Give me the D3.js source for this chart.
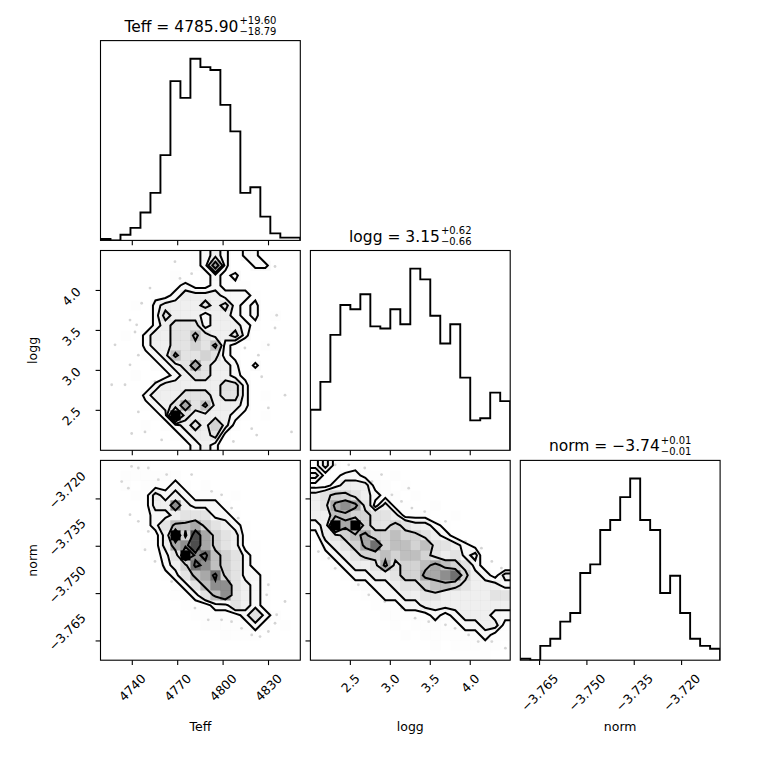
<!DOCTYPE html>
<html><head><meta charset="utf-8">
<script src="https://cdn.jsdelivr.net/npm/d3@7"></script>
<style>body{margin:0;background:#fff} svg{display:block} text{font-family:"DejaVu Sans",sans-serif;fill:#000}</style>
</head><body><svg id="c" width="760" height="760"></svg>
<script>
// ---------- data ----------
const paramNames = ["Teff", "logg", "norm"];
const teffRange = [4719.0, 4851.0];
const loggRange = [2.0, 4.5];
const normRange = [-3.7711, -3.7078];
const teffTicks = [4740, 4770, 4800, 4830];
const loggTicks = [2.5, 3.0, 3.5, 4.0];
const normTicks = [-3.765, -3.750, -3.735, -3.720];
const teffTickLabels = ["4740", "4770", "4800", "4830"];
const loggTickLabels = ["2.5", "3.0", "3.5", "4.0"];
const normTickLabels = ["−3.765", "−3.750", "−3.735", "−3.720"];
const titleMedians = ["4785.90", "3.15", "−3.74"];
const titlePlus = ["19.60", "0.62", "0.01"];
const titleMinus = ["18.79", "0.66", "0.01"];

// 1D histogram counts (20 bins over each range)
const teffCounts = [1, 0, 4, 9, 20, 34, 61, 114, 102, 130, 124, 122, 97, 78, 34, 38, 17, 5, 2, 2];
const loggCounts = [19, 32, 54, 68, 66, 73, 58, 57, 66, 59, 85, 80, 63, 50, 59, 34, 14, 15, 27, 23];
const normCounts = [1, 0, 10, 15, 27, 33, 61, 67, 91, 98, 114, 127, 98, 91, 47, 59, 33, 15, 10, 8];

// 2D histogram counts, 20x20, rows from top (high y) to bottom, columns left to right
const gridTeffLogg = [
  [0,0,0,0,0,0,0,0,0,1,2,3,2,0,2,2,0,0,0,0],
  [0,0,0,0,0,0,0,0,0,1,2,7,2,0,0,2,2,0,0,0],
  [0,0,0,0,0,0,0,1,0,0,1,2,1,2,0,0,0,0,0,0],
  [0,0,0,0,0,0,0,1,2,1,1,2,1,1,1,0,0,0,0,0],
  [0,0,0,0,0,1,1,2,3,3,3,3,2,2,2,1,0,0,0,0],
  [0,0,0,1,0,2,3,3,3,3,4,3,4,2,1,2,0,0,0,0],
  [0,0,0,0,0,2,4,3,3,3,2,3,3,2,1,2,0,1,0,0],
  [0,0,0,0,0,2,3,4,4,4,2,3,3,3,2,1,0,0,0,0],
  [0,0,1,0,2,3,3,4,4,6,4,3,3,4,2,0,0,0,0,0],
  [0,0,0,0,2,3,3,4,4,5,4,6,2,1,0,0,1,0,0,0],
  [0,0,0,0,1,2,3,6,4,4,5,4,2,1,0,0,0,0,0,0],
  [0,0,0,0,0,1,2,3,4,7,4,3,3,2,0,2,0,0,0,0],
  [0,0,0,1,0,0,1,2,3,4,4,3,3,2,1,0,0,0,0,0],
  [0,0,0,0,0,2,3,3,3,3,3,3,4,4,2,0,0,0,0,0],
  [0,0,0,0,2,3,3,3,4,4,4,3,4,4,2,0,1,0,0,0],
  [0,0,0,0,1,2,3,4,7,4,6,3,3,3,2,0,0,0,0,0],
  [0,0,0,0,0,1,2,12,4,3,3,3,3,2,1,0,1,0,0,0],
  [0,0,0,0,1,0,1,2,3,4,3,5,3,1,0,0,0,0,0,0],
  [0,0,0,0,0,0,0,1,2,3,3,4,1,0,0,0,0,0,0,0],
  [0,0,0,0,0,0,0,0,1,2,3,2,0,0,0,0,0,0,0,0]
];
const gridTeffNorm = [
  [0,0,0,1,1,0,0,0,0,0,0,0,0,0,0,0,0,0,0,0],
  [0,0,1,1,1,1,1,1,0,0,0,0,0,0,0,0,0,0,0,0],
  [0,0,1,0,1,1,1,2,1,0,1,0,0,0,0,0,0,0,0,0],
  [0,0,0,1,1,3,2,3,2,1,1,1,0,1,0,0,0,0,0,0],
  [0,0,0,0,1,3,3,8,3,2,2,2,1,0,0,0,0,0,0,0],
  [0,0,0,0,1,2,2,3,4,4,4,2,2,1,0,0,0,0,0,0],
  [0,0,0,0,1,2,4,6,6,7,5,4,3,2,1,0,0,0,0,0],
  [0,0,0,0,0,1,3,12,5,10,7,5,4,3,1,0,0,0,0,0],
  [0,0,0,0,1,1,3,7,8,10,7,5,4,3,1,1,0,0,0,0],
  [0,0,0,0,0,1,2,4,12,8,9,6,5,4,2,1,0,0,0,0],
  [0,0,0,0,0,0,2,3,5,9,8,6,5,4,2,1,0,0,0,0],
  [0,0,0,0,0,0,1,2,4,6,7,9,5,4,2,2,1,0,0,0],
  [0,0,0,0,0,0,0,1,2,4,6,8,8,4,3,2,1,0,0,0],
  [0,0,0,0,0,0,0,1,1,2,4,6,8,4,3,2,1,0,0,0],
  [0,0,0,0,0,0,0,0,1,1,1,2,2,4,3,2,1,0,0,0],
  [0,0,0,0,0,0,0,0,0,1,1,1,1,1,2,4,2,1,0,0],
  [0,0,0,0,0,0,0,0,0,0,1,1,1,1,1,2,1,0,1,0],
  [0,0,0,0,0,0,0,0,0,0,0,0,1,1,1,1,0,0,0,0],
  [0,0,0,0,0,0,0,0,0,0,0,0,0,0,0,0,0,0,0,0],
  [0,0,0,0,0,0,0,0,0,0,0,0,0,0,0,0,0,0,0,0]
];
const gridLoggNorm = [
  [1,3,1,0,1,0,0,0,0,0,0,0,0,0,0,0,0,0,0,0],
  [3,1,1,2,2,1,1,0,1,0,0,0,0,0,0,0,0,0,0,0],
  [1,1,2,3,3,3,1,1,0,1,0,0,0,0,0,0,0,0,0,0],
  [3,4,5,5,4,3,2,1,1,0,1,0,0,0,0,0,0,0,0,0],
  [3,4,7,8,7,4,1,3,1,1,0,0,1,0,0,0,0,0,0,0],
  [3,3,6,6,5,5,4,4,3,1,1,1,0,0,1,0,0,0,0,0],
  [2,3,12,7,12,5,4,4,5,4,3,3,2,1,0,0,0,0,0,0],
  [1,3,4,5,6,7,5,5,6,5,5,4,3,2,1,0,0,0,0,0],
  [0,2,3,4,5,7,9,5,6,6,5,6,4,4,3,2,1,0,0,0],
  [0,1,2,3,4,5,5,6,5,6,6,5,4,3,4,2,3,0,0,0],
  [0,0,1,2,3,3,4,7,4,5,5,6,7,6,5,4,2,1,0,0],
  [0,0,0,1,2,2,3,3,4,5,5,7,7,8,9,5,3,2,1,3],
  [0,0,0,0,1,1,2,2,3,4,4,5,6,6,5,4,3,3,3,2],
  [0,0,0,0,0,1,1,2,2,3,3,4,4,3,3,3,3,3,4,4],
  [0,0,0,0,0,0,1,1,1,2,2,3,3,3,3,3,3,3,3,3],
  [0,0,0,0,0,0,0,1,1,1,1,1,2,1,2,3,3,3,2,2],
  [0,0,0,0,0,0,0,0,1,0,1,1,1,1,1,2,2,3,3,1],
  [0,0,0,0,0,0,0,0,0,1,0,1,1,1,1,1,1,2,1,1],
  [0,0,0,0,0,0,0,0,0,0,0,0,1,0,1,1,1,1,1,0],
  [0,0,0,0,0,0,0,0,0,0,0,0,0,0,0,0,0,1,0,0]
];
// contour levels (counts) for each 2D panel, outermost first
const levelsTeffLogg = [1.5, 2.5, 3.5, 5.5];
const levelsTeffNorm = [1.5, 2.5, 5.5, 8.5];
const levelsLoggNorm = [1.5, 2.5, 4.5, 6.5];

// sparse samples visible outside the contours
const ptsTeffLogg = [[4738.5,3.63],[4742.9,3.57],[4746.2,3.84],[4751.7,4.03],[4779.2,4.21],[4771.5,4.15],[4826.6,4.28],[4834.3,4.30],[4835.4,3.69],[4834.3,3.53],[4829.9,3.32],[4823.3,3.19],[4825.5,2.92],[4840.9,2.69],[4829.9,2.53],[4818.9,2.27],[4822.2,2.19],[4806.8,2.11],[4759.4,2.13],[4748.4,2.23],[4739.6,2.21],[4744.0,2.48],[4735.2,2.82],[4738.5,3.07],[4744.0,3.19],[4741.8,3.48],[4755.0,2.86],[4726.4,2.82],[4814.4,3.28],[4768.2,4.36],[4845.2,2.23],[4728.6,3.32]];
const ptsTeffNorm = [[4739.5,-3.7097],[4744.0,-3.7102],[4750.6,-3.7102],[4757.2,-3.7139],[4762.7,-3.7123],[4779.2,-3.7123],[4733.0,-3.7145],[4737.4,-3.7166],[4738.5,-3.7250],[4744.0,-3.7271],[4750.6,-3.7303],[4748.4,-3.7361],[4755.0,-3.7398],[4766.0,-3.7462],[4781.4,-3.7515],[4790.2,-3.7583],[4799.0,-3.7583],[4805.6,-3.7589],[4812.2,-3.7610],[4818.9,-3.7631],[4824.4,-3.7636],[4834.3,-3.7594],[4835.4,-3.7567],[4840.9,-3.7525],[4828.8,-3.7504],[4829.9,-3.7472],[4823.3,-3.7441],[4812.2,-3.7345],[4810.0,-3.7261],[4805.6,-3.7229],[4799.0,-3.7187],[4792.4,-3.7176],[4781.4,-3.7546],[4829.9,-3.7620]];
const ptsLoggNorm = [[2.10,-3.7102],[2.31,-3.7092],[2.48,-3.7092],[2.56,-3.7123],[2.77,-3.7145],[2.89,-3.7123],[3.02,-3.7187],[3.14,-3.7208],[3.27,-3.7229],[3.43,-3.7240],[3.69,-3.7271],[3.94,-3.7335],[4.14,-3.7356],[4.27,-3.7398],[4.39,-3.7419],[2.10,-3.7367],[2.23,-3.7388],[2.31,-3.7420],[2.48,-3.7430],[2.60,-3.7472],[2.73,-3.7504],[2.93,-3.7525],[3.14,-3.7546],[3.31,-3.7578],[3.48,-3.7589],[3.69,-3.7599],[3.81,-3.7610],[3.98,-3.7631],[4.10,-3.7652],[4.27,-3.7652],[4.44,-3.7673],[3.23,-3.7166],[2.68,-3.7102]];

// ---------- layout ----------
const L0 = 100.5, T0 = 40.6, S = 199.8, G = 10.1;
const colLeft = i => L0 + i * (S + G);
const rowTop = j => T0 + j * (S + G);
const FS = 12.5;

const ranges = [teffRange, loggRange, normRange];
const ticksAll = [teffTicks, loggTicks, normTicks];
const tickLabelsAll = [teffTickLabels, loggTickLabels, normTickLabels];
const countsAll = [teffCounts, loggCounts, normCounts];
const grids = { "1,0": gridTeffLogg, "2,0": gridTeffNorm, "2,1": gridLoggNorm };
const levels = { "1,0": levelsTeffLogg, "2,0": levelsTeffNorm, "2,1": levelsLoggNorm };
const points = { "1,0": ptsTeffLogg, "2,0": ptsTeffNorm, "2,1": ptsLoggNorm };

const svg = d3.select("#c");
const defs = svg.append("defs");

function xTickLabel(g, x, yTop, label) {
  const t = g.append("text").attr("text-anchor", "middle").attr("dominant-baseline", "central")
    .style("font-size", FS + "px").text(label);
  const L = t.node().getComputedTextLength();
  const h = 0.7071 * (L + 0.73 * FS);
  t.attr("transform", `translate(${x},${yTop + h / 2}) rotate(-45)`);
}
function yTickLabel(g, y, label, axisLeft) {
  const t = g.append("text").attr("text-anchor", "middle").attr("dominant-baseline", "central")
    .style("font-size", FS + "px").text(label);
  const L = t.node().getComputedTextLength();
  const w = 0.7071 * (L + 0.73 * FS);
  const right = axisLeft - 18.8 + (L - 19.9) * 0.19;
  const cy = y + 17.3 - 0.568 * L;
  t.attr("transform", `translate(${right - w / 2},${cy}) rotate(-45)`);
}

// grid padded by two bins on every side (edge values repeated once), as corner does
function padded(grid) {
  const n = grid.length, m = grid[0].length;
  const N2 = n + 4, M2 = m + 4;
  const hmin = d3.min(grid.flat());
  const H2 = new Array(N2 * M2).fill(hmin);
  for (let r = 0; r < n; r++) for (let c = 0; c < m; c++) H2[(r + 2) * M2 + c + 2] = grid[r][c];
  for (let c = 0; c < m; c++) { H2[1 * M2 + c + 2] = grid[0][c]; H2[(n + 2) * M2 + c + 2] = grid[n - 1][c]; }
  for (let r = 0; r < n; r++) { H2[(r + 2) * M2 + 1] = grid[r][0]; H2[(r + 2) * M2 + m + 2] = grid[r][m - 1]; }
  H2[1 * M2 + 1] = grid[0][0]; H2[1 * M2 + m + 2] = grid[0][m - 1];
  H2[(n + 2) * M2 + 1] = grid[n - 1][0]; H2[(n + 2) * M2 + m + 2] = grid[n - 1][m - 1];
  return { H2, N2, M2 };
}

for (let row = 0; row < 3; row++) {
  for (let col = 0; col <= row; col++) {
    const x0 = colLeft(col), y0 = rowTop(row);
    const g = svg.append("g");
    const clipId = `clip${row}${col}`;
    defs.append("clipPath").attr("id", clipId).append("rect").attr("x", x0).attr("y", y0).attr("width", S).attr("height", S);
    const xr = ranges[col];
    const xs = d3.scaleLinear().domain(xr).range([x0, x0 + S]);
    const inner = g.append("g").attr("clip-path", `url(#${clipId})`);

    if (row === col) {
      const counts = countsAll[col];
      const nb = counts.length;
      const edges = d3.range(nb + 1).map(k => xr[0] + k * (xr[1] - xr[0]) / nb);
      const ys = d3.scaleLinear().domain([0, 1.1 * d3.max(counts)]).range([y0 + S, y0]);
      const ptsLine = [[edges[0], 0]];
      counts.forEach((c, k) => { ptsLine.push([edges[k], c]); ptsLine.push([edges[k + 1], c]); });
      ptsLine.push([edges[nb], 0]);
      inner.append("path").attr("d", d3.line().x(d => xs(d[0])).y(d => ys(d[1]))(ptsLine))
        .attr("fill", "none").attr("stroke", "#000").attr("stroke-width", 1.9).attr("stroke-linejoin", "miter");
      // title: one text element with stacked super/subscript
      const baseY = y0 - 9;
      const cx = x0 + S / 2;
      const t = g.append("text").attr("y", baseY);
      const tm = t.append("tspan").style("font-size", "15.5px").text(`${paramNames[col]} = ${titleMedians[col]}`);
      const tsup = t.append("tspan").style("font-size", "10px").attr("dy", -7.8).text("+" + titlePlus[col]);
      const tsub = t.append("tspan").style("font-size", "10px").attr("dy", 11.6).text("−" + titleMinus[col]);
      const w = tm.node().getComputedTextLength();
      const ws = Math.max(tsup.node().getComputedTextLength(), tsub.node().getComputedTextLength());
      const tx = cx - (w + ws + 1) / 2;
      tm.attr("x", tx); tsup.attr("x", tx + w + 1); tsub.attr("x", tx + w + 1);
    } else {
      const key = `${row},${col}`;
      const yr = ranges[row];
      const ys = d3.scaleLinear().domain(yr).range([y0 + S, y0]);
      const grid = grids[key];
      const n = grid.length, m = grid[0].length;
      const dx = (xr[1] - xr[0]) / m, dy = (yr[1] - yr[0]) / n;
      // data points
      inner.selectAll("circle.pt").data(points[key]).join("circle")
        .attr("cx", d => xs(d[0])).attr("cy", d => ys(d[1])).attr("r", 1.4)
        .attr("fill", "#000").attr("fill-opacity", 0.17);
      const V = levels[key].slice().sort((a, b) => a - b);
      const { H2, N2, M2 } = padded(grid);
      const proj = d3.geoTransform({
        point: function (gx, gy) { this.stream.point(xs(xr[0] + (gx - 2) * dx), ys(yr[1] - (gy - 2) * dy)); }
      });
      const path = d3.geoPath(proj);
      const contours = d3.contours().size([M2, N2]).thresholds(V)(H2);
      // white base fill above the lowest level
      inner.append("path").attr("d", path(contours[0])).attr("fill", "#fff").attr("stroke", "none");
      // density cells
      const hmax = d3.max(grid.flat());
      const cells = [];
      grid.forEach((rowv, r) => rowv.forEach((v, c) => { if (v > 0) cells.push({ r, c, v }); }));
      inner.selectAll("rect.cell").data(cells).join("rect")
        .attr("x", d => xs(xr[0] + d.c * dx))
        .attr("y", d => ys(yr[1] - d.r * dy))
        .attr("width", d => xs(xr[0] + (d.c + 1) * dx) - xs(xr[0] + d.c * dx) + 0.3)
        .attr("height", d => ys(yr[1] - (d.r + 1) * dy) - ys(yr[1] - d.r * dy) + 0.3)
        .attr("fill", d => { const s = d.v / hmax; const k = Math.round((1 - s) * 255); return `rgb(${k},${k},${k})`; })
        .attr("fill-opacity", d => d.v / hmax);
      // contour lines
      inner.selectAll("path.ct").data(contours).join("path")
        .attr("d", d => path(d)).attr("fill", "none").attr("stroke", "#000").attr("stroke-width", 2)
        .attr("stroke-linejoin", "miter");
      // y ticks
      const yt = g.append("g");
      ticksAll[row].forEach((tv, k) => {
        yt.append("line").attr("x1", x0).attr("x2", x0 - 4.9).attr("y1", ys(tv)).attr("y2", ys(tv))
          .attr("stroke", "#000").attr("stroke-width", 1.1);
        if (col === 0) yTickLabel(yt, ys(tv), tickLabelsAll[row][k], x0);
      });
    }
    // x ticks
    ticksAll[col].forEach((tv, k) => {
      g.append("line").attr("x1", xs(tv)).attr("x2", xs(tv)).attr("y1", y0 + S).attr("y2", y0 + S + 4.9)
        .attr("stroke", "#000").attr("stroke-width", 1.1);
      if (row === 2) xTickLabel(g, xs(tv), y0 + S + 12.8, tickLabelsAll[col][k]);
    });
    // frame
    g.append("rect").attr("x", x0).attr("y", y0).attr("width", S).attr("height", S)
      .attr("fill", "none").attr("stroke", "#000").attr("stroke-width", 1.1);
    // axis labels
    if (row === 2) {
      g.append("text").attr("x", x0 + S / 2).attr("y", 731).attr("text-anchor", "middle")
        .style("font-size", FS + "px").text(paramNames[col]);
    }
    if (col === 0 && row > 0) {
      g.append("text").attr("transform", `translate(37,${y0 + S / 2}) rotate(-90)`).attr("text-anchor", "middle")
        .style("font-size", FS + "px").text(paramNames[row]);
    }
  }
}
</script></body></html>
